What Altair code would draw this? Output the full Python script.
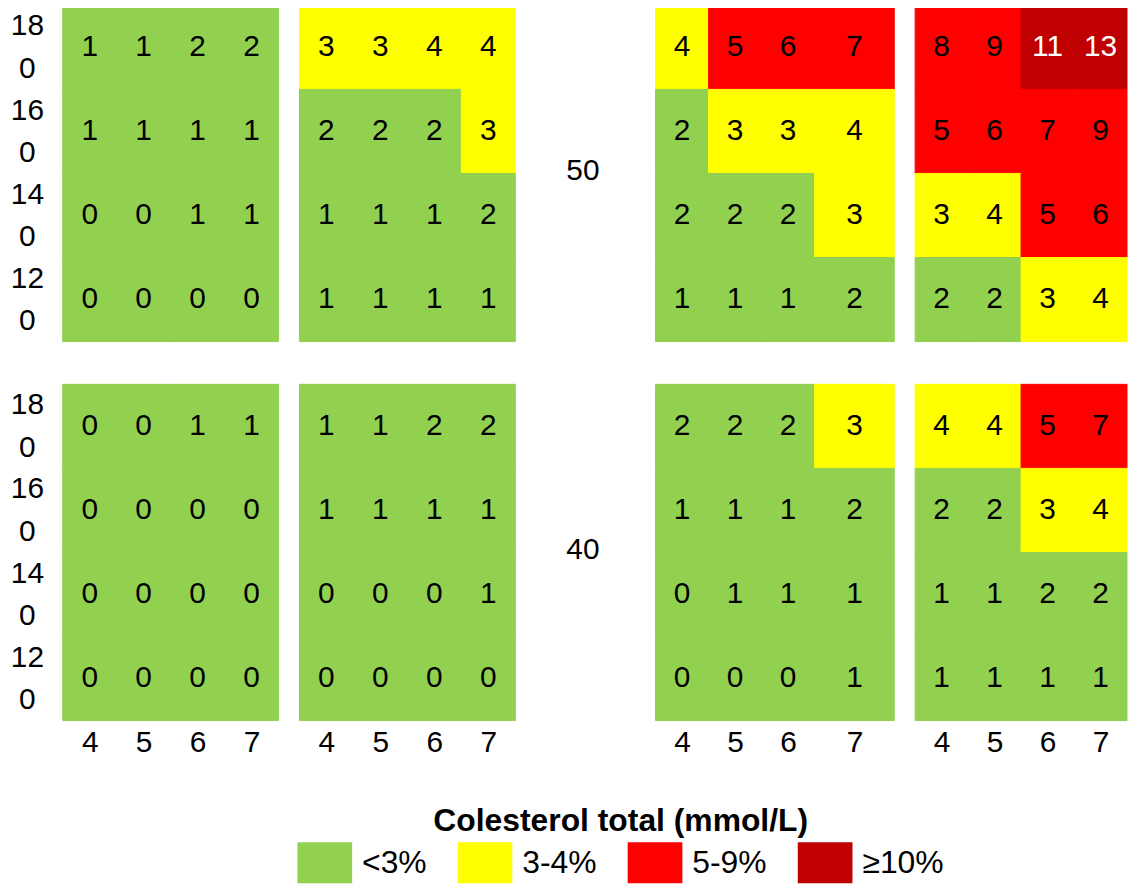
import altair as alt
import pandas as pd

# ---- data -------------------------------------------------------------
chol_levels = [4, 5, 6, 7]            # total cholesterol (mmol/L), columns
sbp_levels = [180, 160, 140, 120]     # systolic blood pressure, rows (top->bottom)
ages = [50, 40]

# cholesterol bin edges per panel (third panel has a wider last bin)
chol_edges = [3.5, 4.5, 5.5, 6.5, 7.5]
chol_edges_wide = [3.5, 4.5, 5.5, 6.5, 8.0]

# risk values (%) rows = sbp_levels, cols = chol_levels
risk_50_g1 = [[1, 1, 2, 2], [1, 1, 1, 1], [0, 0, 1, 1], [0, 0, 0, 0]]
risk_50_g2 = [[3, 3, 4, 4], [2, 2, 2, 3], [1, 1, 1, 2], [1, 1, 1, 1]]
risk_50_g3 = [[4, 5, 6, 7], [2, 3, 3, 4], [2, 2, 2, 3], [1, 1, 1, 2]]
risk_50_g4 = [[8, 9, 11, 13], [5, 6, 7, 9], [3, 4, 5, 6], [2, 2, 3, 4]]

risk_40_g1 = [[0, 0, 1, 1], [0, 0, 0, 0], [0, 0, 0, 0], [0, 0, 0, 0]]
risk_40_g2 = [[1, 1, 2, 2], [1, 1, 1, 1], [0, 0, 0, 1], [0, 0, 0, 0]]
risk_40_g3 = [[2, 2, 2, 3], [1, 1, 1, 2], [0, 1, 1, 1], [0, 0, 0, 1]]
risk_40_g4 = [[4, 4, 5, 7], [2, 2, 3, 4], [1, 1, 2, 2], [1, 1, 1, 1]]

risk_cats = ["<3%", "3-4%", "5-9%", "≥10%"]
risk_colors = ["#92D050", "#FFFF00", "#FF0000", "#C00000"]
legend_title = "Colesterol total (mmol/L)"

FONT = "Liberation Sans"
FS = 30
PANEL_H = 338


def category(v):
    if v < 3:
        return risk_cats[0]
    if v < 5:
        return risk_cats[1]
    if v < 10:
        return risk_cats[2]
    return risk_cats[3]


legend = alt.Legend(
    title=legend_title,
    orient="none",
    legendX=236,
    legendY=805,
    direction="horizontal",
    columns=4,
    symbolType="M-1,-0.75H1V0.75H-1Z",
    symbolSize=3025,
    symbolStrokeWidth=0,
    symbolOpacity=1,
    labelFont=FONT,
    labelFontSize=32,
    labelColor="black",
    labelOffset=10,
    labelLimit=0,
    columnPadding=31,
    titleFont=FONT,
    titleFontSize=32,
    titleFontWeight="bold",
    titleColor="black",
    titleAnchor="middle",
    titlePadding=-3,
    titleLimit=0,
)

color_scale = alt.Scale(domain=risk_cats, range=risk_colors)


def panel(table, edges, width, show_y, show_x):
    rows = []
    for i, s in enumerate(sbp_levels):
        for j, c in enumerate(chol_levels):
            v = table[i][j]
            rows.append(dict(sbp=s, chol=c, risk=v, cat=category(v),
                             x0=edges[j], x1=edges[j + 1],
                             xc=(edges[j] + edges[j + 1]) / 2))
    df = pd.DataFrame(rows)
    xscale = alt.Scale(domain=[edges[0], edges[-1]], nice=False, zero=False)
    yscale = alt.Scale(paddingInner=0, paddingOuter=0)
    centers = [(edges[j] + edges[j + 1]) / 2 for j in range(4)]
    if show_x:
        xaxis = alt.Axis(values=centers, labelExpr="floor(datum.value)",
                         ticks=False, tickSize=0, domain=False, grid=False,
                         labelPadding=22, labelBaseline="middle",
                         labelFont=FONT, labelFontSize=FS, labelColor="black",
                         labelOverlap=False, labelFlush=False, title=None)
    else:
        xaxis = None
    if show_y:
        yaxis = alt.Axis(labelExpr="[slice(datum.label,0,2), slice(datum.label,2)]",
                         ticks=False, tickSize=0, domain=False, grid=False,
                         labelPadding=36, labelAlign="center", labelBaseline="middle",
                         labelLineHeight=43, labelOffset=-21,
                         labelFont=FONT, labelFontSize=FS,
                         labelColor="black", title=None)
    else:
        yaxis = None
    base = alt.Chart(df)
    rect = base.mark_rect(strokeWidth=1).encode(
        x=alt.X("x0:Q", scale=xscale, axis=xaxis),
        x2="x1:Q",
        y=alt.Y("sbp:O", sort=sbp_levels, scale=yscale, axis=yaxis),
        color=alt.Color("cat:N", scale=color_scale, legend=legend),
        stroke=alt.Stroke("cat:N", scale=color_scale, legend=None),
    )
    text = base.mark_text(font=FONT, fontSize=FS, baseline="middle").encode(
        x=alt.X("xc:Q", scale=xscale, axis=xaxis),
        y=alt.Y("sbp:O", sort=sbp_levels, scale=yscale, axis=yaxis),
        text="risk:Q",
        color=alt.condition("datum.risk >= 10", alt.value("white"), alt.value("black")),
    )
    return alt.layer(rect, text).properties(width=width, height=PANEL_H)


def age_label(age):
    return alt.Chart(pd.DataFrame({"age": [age]})).mark_text(
        font=FONT, fontSize=FS, baseline="middle", align="center"
    ).encode(
        text="age:Q", x=alt.value(48), y=alt.value(167)
    ).properties(width=101, height=PANEL_H)


tables = {50: [risk_50_g1, risk_50_g2, risk_50_g3, risk_50_g4],
          40: [risk_40_g1, risk_40_g2, risk_40_g3, risk_40_g4]}
widths = [217, 217, 240, 213]
edges_list = [chol_edges, chol_edges, chol_edges_wide, chol_edges]

rows = []
for r, age in enumerate(ages):
    show_x = (r == len(ages) - 1)
    p = [panel(tables[age][k], edges_list[k], widths[k], k == 0, show_x) for k in range(4)]
    rows.append(alt.hconcat(p[0], p[1], age_label(age), p[2], p[3], spacing=19))

chart = alt.vconcat(*rows, spacing=41).properties(
    padding={"left": 2, "top": -6, "right": 0, "bottom": 0}
).configure(font=FONT).configure_view(stroke=None).resolve_scale(color="shared", stroke="shared")

chart.save("out.html", embed_options={"renderer": "svg", "actions": False})
